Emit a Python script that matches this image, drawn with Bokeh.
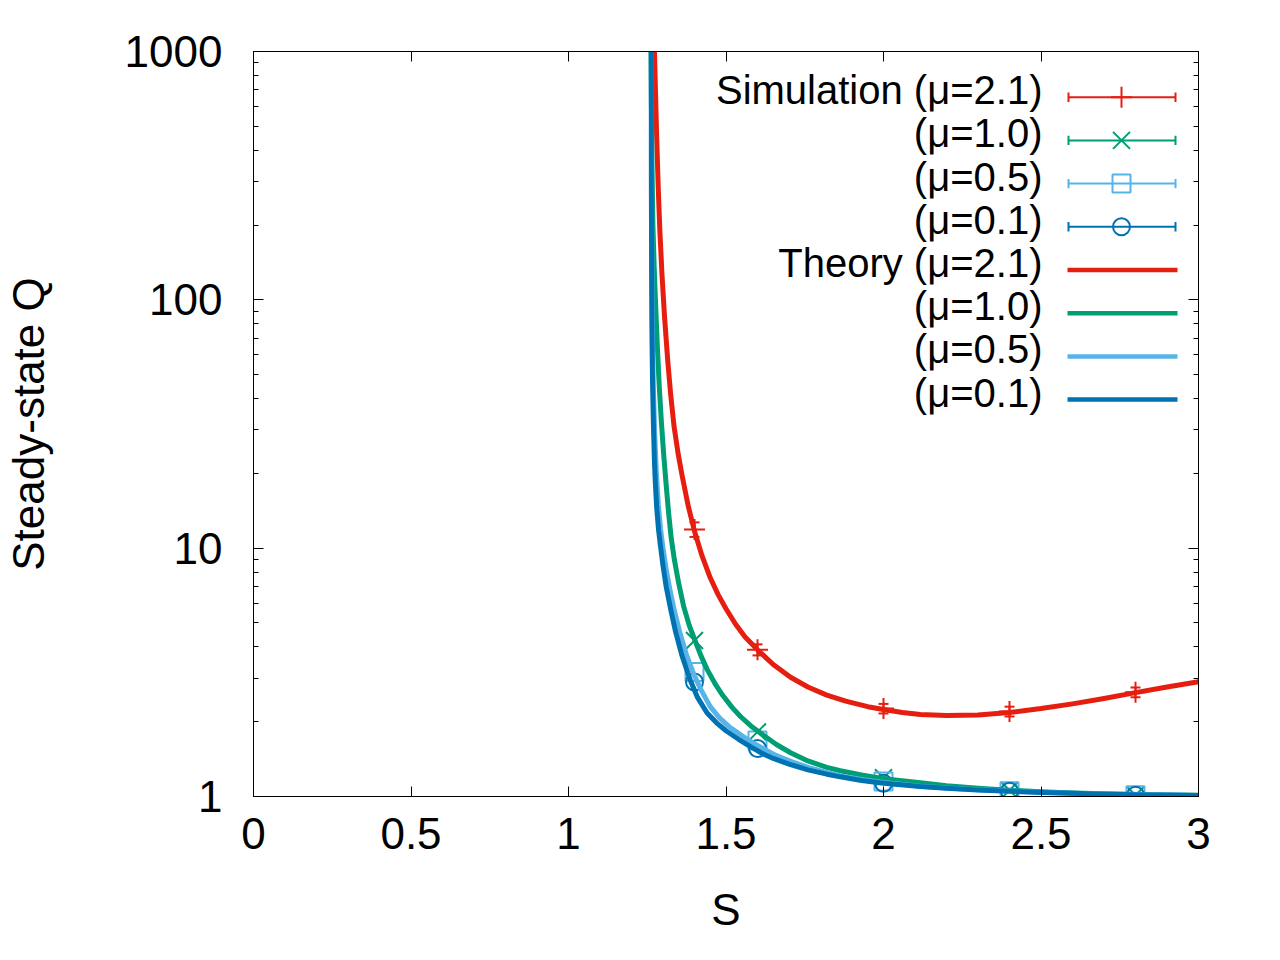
import math
from bokeh.plotting import figure
from bokeh.models import (LinearAxis, LogAxis, FixedTicker, PrintfTickFormatter,
                          CustomJSTickFormatter, Range1d, ColumnDataSource, Whisker, TeeHead)
from bokeh.core.properties import value
from bokeh.embed import file_html
from bokeh.resources import INLINE

FONT = "Liberation Sans"
RED, GREEN, SKY, BLUE = "#e51e10", "#009e73", "#56b4e9", "#0072b2"

# ---------------- data ----------------
x_ticks = [0, 0.5, 1, 1.5, 2, 2.5, 3]
y_ticks = [1, 10, 100, 1000]

S_sim = [1.4, 1.6, 2.0, 2.4, 2.8]
Q_sim_21 = [11.9, 3.9, 2.26, 2.2, 2.63]
E_sim_21 = [0.8, 0.2, 0.1, 0.1, 0.12]
Q_sim_10 = [4.25, 1.82, 1.19, 1.06, 1.012]
Q_sim_05 = [3.17, 1.68, 1.15, 1.05, 1.012]
Q_sim_01 = [2.89, 1.56, 1.13, 1.05, 1.012]

S_th_21 = [1.273, 1.276, 1.280, 1.285, 1.290, 1.297, 1.305, 1.315, 1.324, 1.335, 1.348,
           1.361, 1.380, 1.400, 1.424, 1.450, 1.475, 1.500, 1.530, 1.560, 1.600, 1.650,
           1.705, 1.760, 1.820, 1.880, 1.950, 2.000, 2.060, 2.117, 2.200, 2.300, 2.400,
           2.500, 2.600, 2.700, 2.800, 2.900, 3.000]
Q_th_21 = [1000, 700, 450, 280, 190, 125, 85, 57, 42, 31, 24,
           19.5, 14.8, 11.7, 9.3, 7.6, 6.5, 5.7, 4.95, 4.4, 3.9, 3.4,
           3.02, 2.76, 2.56, 2.42, 2.3, 2.24, 2.18, 2.14, 2.12, 2.13, 2.18,
           2.26, 2.36, 2.48, 2.62, 2.76, 2.9]

S_th_10 = [1.262, 1.263, 1.265, 1.268, 1.272, 1.276, 1.282, 1.288, 1.295, 1.302, 1.310,
           1.318, 1.326, 1.336, 1.350, 1.366, 1.383, 1.400, 1.420, 1.440, 1.465, 1.490,
           1.520, 1.546, 1.580, 1.620, 1.660, 1.705, 1.760, 1.820, 1.863, 1.930, 2.000,
           2.117, 2.200, 2.300, 2.400, 2.500, 2.600, 2.700, 2.850, 3.000]
Q_th_10 = [1000, 650, 350, 200, 135, 100, 65, 45, 32, 24, 18,
           13.8, 11, 9.0, 7.2, 5.8, 4.9, 4.3, 3.7, 3.25, 2.85, 2.55,
           2.28, 2.1, 1.92, 1.76, 1.62, 1.5, 1.39, 1.31, 1.27, 1.22, 1.18,
           1.135, 1.105, 1.08, 1.06, 1.045, 1.034, 1.025, 1.016, 1.012]

S_th_05 = [1.263, 1.264, 1.265, 1.267, 1.270, 1.274, 1.279, 1.285, 1.292, 1.300, 1.310,
           1.322, 1.336, 1.355, 1.375, 1.398, 1.420, 1.450, 1.480, 1.510, 1.550, 1.590,
           1.630, 1.660, 1.710, 1.760, 1.820, 1.863, 1.930, 2.000, 2.117, 2.200, 2.300,
           2.400, 2.500, 2.600, 2.700, 2.850, 3.000]
Q_th_05 = [1000, 200, 110, 65, 42, 28, 20, 15, 12, 10, 8.2,
           6.8, 5.6, 4.5, 3.7, 3.1, 2.7, 2.3, 2.07, 1.91, 1.76, 1.63,
           1.53, 1.46, 1.38, 1.31, 1.25, 1.21, 1.17, 1.14, 1.10, 1.083, 1.065,
           1.052, 1.04, 1.031, 1.023, 1.016, 1.01]

S_th_01 = [1.263, 1.263, 1.264, 1.265, 1.267, 1.270, 1.273, 1.276, 1.280, 1.286, 1.292,
           1.300, 1.310, 1.324, 1.340, 1.360, 1.387, 1.410, 1.440, 1.470, 1.500, 1.540,
           1.580, 1.620, 1.652, 1.700, 1.760, 1.820, 1.863, 1.930, 2.000, 2.117, 2.200,
           2.300, 2.400, 2.500, 2.600, 2.700, 2.850, 3.000]
Q_th_01 = [1000, 300, 120, 70, 45, 30, 22, 18, 14.5, 11.8, 10.2,
           8.5, 7.0, 5.7, 4.6, 3.7, 2.93, 2.5, 2.17, 1.98, 1.84, 1.70,
           1.58, 1.48, 1.42, 1.35, 1.28, 1.23, 1.2, 1.16, 1.13, 1.097, 1.08,
           1.063, 1.05, 1.038, 1.03, 1.022, 1.015, 1.01]

sim_labels = ["Simulation (\u03bc=2.1)", "(\u03bc=1.0)", "(\u03bc=0.5)", "(\u03bc=0.1)"]
th_labels = ["Theory (\u03bc=2.1)", "(\u03bc=1.0)", "(\u03bc=0.5)", "(\u03bc=0.1)"]

# ---------------- figure ----------------
X0, X1, Y0, Y1 = 0.0, 3.0, 1.0, 1000.0
FW, FH = 945, 745
BL, BT, BR, BB = 253, 51, 74, 156
p = figure(width=BL + FW + BR, height=BT + FH + BB, frame_width=FW, frame_height=FH,
           x_range=Range1d(X0, X1), y_range=Range1d(Y0, Y1), y_axis_type="log",
           output_backend="svg", toolbar_location=None,
           min_border_left=BL, min_border_right=BR, min_border_top=BT, min_border_bottom=BB)
p.background_fill_color = "white"
p.border_fill_color = "white"
p.outline_line_color = "black"
p.outline_line_width = 1
p.xgrid.visible = False
p.ygrid.visible = False

xt = FixedTicker(ticks=x_ticks)
minor_y = [m * d for d in (1, 10, 100) for m in range(2, 10)]
yt = FixedTicker(ticks=y_ticks, minor_ticks=minor_y)
blank = CustomJSTickFormatter(code="return ''")


def style_axis(ax):
    ax.axis_line_color = "black"
    ax.major_tick_in = 10
    ax.major_tick_out = 0
    ax.minor_tick_in = 5
    ax.minor_tick_out = 0
    ax.major_tick_line_color = "black"
    ax.major_label_text_font = FONT
    ax.major_label_text_color = "black"
    ax.major_label_text_font_size = "44px"
    ax.axis_label_text_font = FONT
    ax.axis_label_text_font_style = "normal"
    ax.axis_label_text_color = "black"
    ax.axis_label_text_font_size = "44px"


xa = p.xaxis[0]
xa.ticker = xt
xa.formatter = PrintfTickFormatter(format="%g")
style_axis(xa)
xa.minor_tick_line_color = None
xa.major_label_standoff = 21
xa.axis_label = "S"
xa.axis_label_standoff = 33

ya = p.yaxis[0]
ya.ticker = yt
ya.formatter = PrintfTickFormatter(format="%g")
style_axis(ya)
ya.major_label_standoff = 31
ya.axis_label = "Steady-state Q"
ya.axis_label_standoff = 69

top = LinearAxis(ticker=xt, formatter=blank)
style_axis(top)
top.minor_tick_line_color = None
top.major_label_standoff = 0
p.add_layout(top, "above")

right = LogAxis(ticker=yt, formatter=blank)
style_axis(right)
right.major_label_standoff = 0
p.add_layout(right, "right")

# ---------------- simulation points ----------------
err_src = ColumnDataSource(dict(base=S_sim,
                                upper=[q + e for q, e in zip(Q_sim_21, E_sim_21)],
                                lower=[q - e for q, e in zip(Q_sim_21, E_sim_21)]))
p.add_layout(Whisker(source=err_src, base="base", upper="upper", lower="lower",
                     dimension="height", line_color=RED, line_width=2,
                     upper_head=TeeHead(size=10, line_color=RED, line_width=2),
                     lower_head=TeeHead(size=10, line_color=RED, line_width=2)))

MK = [("cross", 21), ("x", 24), ("square", 18), ("circle", 17)]
for Q, c, (m, s) in zip((Q_sim_21, Q_sim_10, Q_sim_05, Q_sim_01), (RED, GREEN, SKY, BLUE), MK):
    p.scatter(S_sim, Q, marker=m, size=s, line_color=c, fill_color=None, line_width=2)

# ---------------- theory lines ----------------
for S, Q, c in ((S_th_21, Q_th_21, RED), (S_th_10, Q_th_10, GREEN),
                (S_th_05, Q_th_05, SKY), (S_th_01, Q_th_01, BLUE)):
    p.line(S, Q, line_color=c, line_width=5, line_join="round")

# ---------------- key (gnuplot style: text right-aligned, sample on the right) ----------------
FL, FT = 253, 51  # frame left / top on the page


def kx(px):
    return X0 + (px - FL) / FW * (X1 - X0)


def ky(py):
    l0, l1 = math.log10(Y0), math.log10(Y1)
    return 10 ** (l1 - (py - FT) / FH * (l1 - l0))


row0, dy = 96.7, 43.2
rows = [row0 + i * dy for i in range(8)]
labels = sim_labels + th_labels
p.text(x=[kx(1042)] * 8, y=[ky(r - 7) for r in rows], text=labels,
       text_align="right", text_baseline="alphabetic", text_color="black",
       text_font=value(FONT), text_font_size=value("40px"))

sim_cols = [RED, GREEN, SKY, BLUE]
for i, c in enumerate(sim_cols):
    r = rows[i]
    p.segment(x0=[kx(1068)], y0=[ky(r)], x1=[kx(1175)], y1=[ky(r)], line_color=c, line_width=2)
    p.segment(x0=[kx(1068), kx(1175)], y0=[ky(r - 4.7)] * 2,
              x1=[kx(1068), kx(1175)], y1=[ky(r + 4.7)] * 2, line_color=c, line_width=2)
    m, s = MK[i]
    p.scatter([kx(1121)], [ky(r)], marker=m, size=s, line_color=c, fill_color=None, line_width=2)

for i, c in enumerate(sim_cols):
    r = rows[4 + i]
    p.segment(x0=[kx(1067)], y0=[ky(r)], x1=[kx(1177)], y1=[ky(r)], line_color=c, line_width=4.5)

open("out.html", "w").write(file_html(p, INLINE))
